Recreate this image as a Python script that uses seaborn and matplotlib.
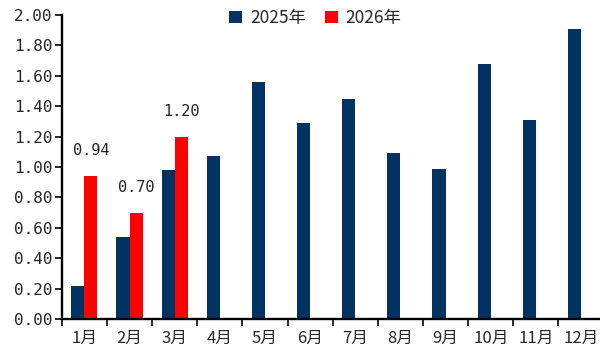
import seaborn as sns
import matplotlib.pyplot as plt
import pandas as pd
import numpy as np

meses = ['1月', '2月', '3月', '4月', '5月', '6月', '7月', '8月', '9月', '10月', '11月', '12月']
valores_2025 = [0.22, 0.54, 0.98, 1.07, 1.56, 1.29, 1.45, 1.09, 0.99, 1.68, 1.31, 1.91]
valores_2026 = [0.94, 0.70, 1.20] + [np.nan] * 9
series = ['2025年', '2026年']
colores = {'2025年': '#003262', '2026年': '#ff0000'}

filas = []
for m, a, b in zip(meses, valores_2025, valores_2026):
    filas.append({'mes': m, 'valor': a, 'serie': series[0]})
    filas.append({'mes': m, 'valor': b, 'serie': series[1]})
df = pd.DataFrame(filas)

sns.set_style("ticks")
plt.rcParams['font.family'] = ['Noto Sans CJK SC', 'DejaVu Sans']

fig = plt.figure(figsize=(6, 3.49), dpi=100)
ax = fig.add_axes([0.103, 0.086, 0.903, 0.871])

sns.barplot(data=df, x='mes', y='valor', hue='serie', palette=colores,
            order=meses, hue_order=series, width=0.58, linewidth=0,
            saturation=1, ax=ax)

mono = ['DejaVu Sans Mono', 'Noto Sans CJK SC']
ax.bar_label(ax.containers[1], fmt='%.2f', padding=13, fontsize=11,
             family=mono, color='#222222')

ax.set_ylim(0, 2.0)
ax.set_xlim(-0.5, 11.5)
ax.set_yticks(np.arange(0, 2.01, 0.2))
ax.set_yticklabels([f'{v:.2f}' for v in np.arange(0, 2.01, 0.2)],
                   family=mono, fontsize=11.5)
ax.set_xticks(range(12))
ax.set_xticklabels(meses, fontsize=12)
ax.set_xticks(np.arange(-0.5, 12, 1), minor=True)
ax.tick_params(axis='x', which='major', length=0, pad=8)
ax.tick_params(axis='x', which='minor', length=5, width=1.4, direction='out')
ax.tick_params(axis='y', length=5, width=1.4, direction='out', pad=2)
ax.set_xlabel('')
ax.set_ylabel('')

for s in ['top', 'right']:
    ax.spines[s].set_visible(False)
for s in ['left', 'bottom']:
    ax.spines[s].set_linewidth(1.7)
    ax.spines[s].set_color('black')

ax.legend(title=None, loc='center', bbox_to_anchor=(0.468, 0.99), ncol=2,
          frameon=False, fontsize=12.5, handlelength=0.75, handleheight=0.75,
          handletextpad=0.45, columnspacing=1.1)

fig.savefig('out.png', dpi=100)
